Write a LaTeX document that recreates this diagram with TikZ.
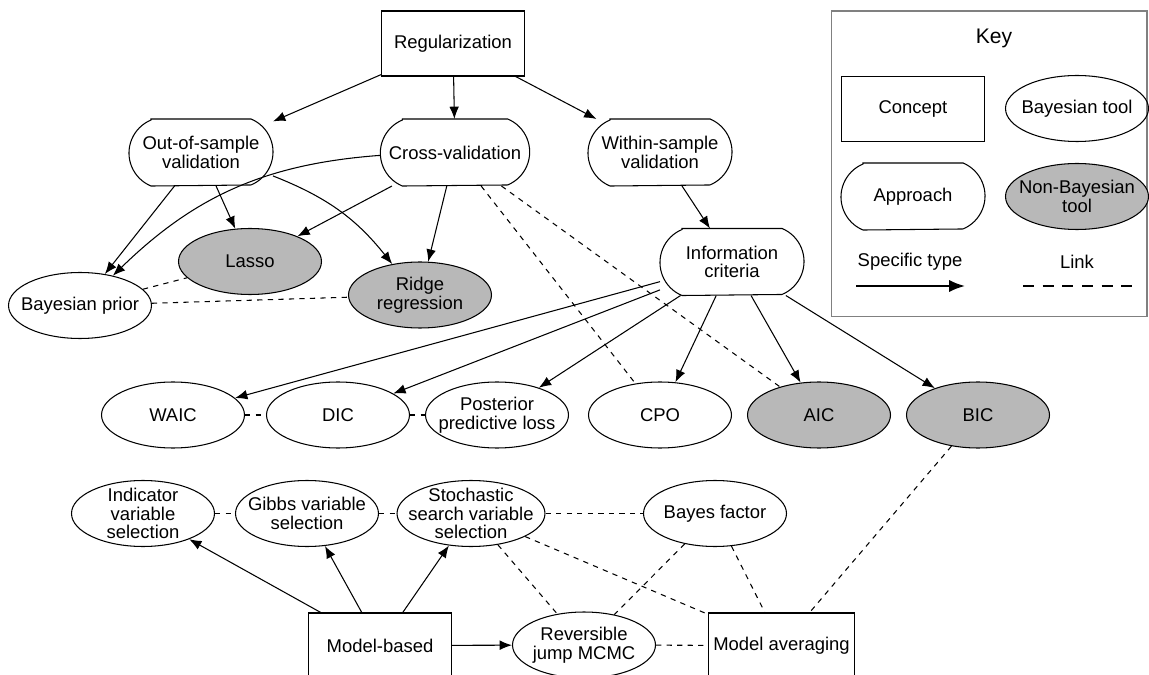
\documentclass[tikz,border=0pt]{standalone}
\usepackage{fontspec}
\setmainfont{Liberation Sans}
\usepackage{tikz}
\usetikzlibrary{arrows.meta, shapes.geometric}
\definecolor{toolgray}{gray}{0.72}
\newcommand*{\nodefont}{\fontsize{10.5}{10.7}\selectfont}

\tikzset{
  concept/.style={draw, rectangle, minimum width=2.86cm, minimum height=1.3cm, inner sep=0.1cm, font=\nodefont},
  approach/.style={rectangle, minimum width=2.86cm, minimum height=1.32cm, inner xsep=0.16cm, align=center, font=\nodefont},
  tool/.style={draw, ellipse, minimum width=2.86cm, minimum height=1.32cm, inner sep=0pt, label={[align=center, font=\nodefont]center:#1}},
  nbtool/.style={tool={#1}, fill=toolgray},
  spec/.style={-{Latex[length=7pt, width=5.5pt]}},
  link/.style={dashed},
}

\begin{document}
\begin{tikzpicture}[x=0.02cm, y=-0.02cm, line width=0.6pt]
 \useasboundingbox (0,0) rectangle (1149,675);
 % approaches and concepts
 \node[concept] (reg) at (453,43.5) {Regularization};
 \node[approach] (oos) at (201,152.5) {Out-of-sample\\validation};
 \node[approach] (cv) at (455,152.5) {Cross-validation};
 \node[approach] (wsv) at (660,152.5) {Within-sample\\validation};
 \node[approach] (ic) at (732,262) {Information\\criteria};
 % tools
 \node[nbtool=Lasso] (lasso) at (250,261.5) {};
 \node[nbtool={Ridge\\regression}] (ridge) at (420,295) {};
 \node[tool={Bayesian prior}] (bprior) at (80,305.5) {};
 \node[tool=WAIC] (waic) at (173,415) {};
 \node[tool=DIC] (dic) at (338,415) {};
 \node[tool={Posterior\\predictive loss}] (ppl) at (497,415) {};
 \node[tool=CPO] (cpo) at (660,415) {};
 \node[nbtool=AIC] (aic) at (819,415) {};
 \node[nbtool=BIC] (bic) at (978,415) {};
 \node[tool={Indicator\\variable\\selection}] (ivs) at (143,513.5) {};
 \node[tool={Gibbs variable\\selection}] (gvs) at (307,513.5) {};
 \node[tool={Stochastic\\search variable\\selection}, minimum width=2.96cm] (ssvs) at (471,513.5) {};
 \node[tool={Bayes factor}] (bf) at (715,513.5) {};
 \node[concept] (mb) at (380,645.5) {Model-based};
 \node[tool={Reversible\\jump MCMC}] (rj) at (584,645) {};
 \node[concept] (ma) at (781.5,645.5) {Model averaging};
 % key
 \node[draw=gray, minimum width=6.32cm, minimum height=6.12cm] (key) at (989,164) {};
 \node[font=\fontsize{12}{14}\selectfont] (keytitle) at (994,38) {Key};
 \node[concept] (kconcept) at (913,109) {Concept};
 \node[tool={Bayesian tool}] (kbayes) at (1077,108.5) {};
 \node[approach] (kapproach) at (913,196.5) {Approach};
 \node[nbtool={Non-Bayesian\\tool}] (knonbayes) at (1077,196.5) {};
 \node[font=\nodefont] (ktype) at (910,262) {Specific type};
 \node[font=\nodefont] (klink) at (1077,262) {Link};
 \coordinate (ktypeA) at (856,286);
 \coordinate (ktypeB) at (965,286);
 \coordinate (klinkA) at (1023,286);
 \coordinate (klinkB) at (1133,286);
 \draw[line width=1.2pt, -{Latex[length=9pt, width=7pt]}] (ktypeA) -- (ktypeB);
 \draw[line width=1.2pt, dash pattern=on 6.2pt off 5pt] (klinkA) -- (klinkB);
 % outline of the approach boxes: flat top and bottom, bowed sides
 \foreach \n in {oos,cv,wsv,ic,kapproach}
   \draw ([xshift=0.44cm]\n.north west) -- ([xshift=-0.44cm]\n.north east)
     arc[start angle=67.4, end angle=-67.4, radius=0.715cm]
     -- ([xshift=0.44cm]\n.south west)
     arc[start angle=247.4, end angle=112.6, radius=0.715cm] -- cycle;
 % specific types
 \draw[spec] (reg) -- (oos);
 \draw[spec] (reg) -- (cv);
 \draw[spec] (reg) -- (wsv);
 \draw[spec] (oos) -- (bprior);
 \draw[spec] (oos) -- (lasso);
 \draw[spec] (oos) to[bend left=15] (ridge);
 \draw[spec] (cv) to[bend right=20] (bprior);
 \draw[spec] (cv) -- (lasso);
 \draw[spec] (cv) -- (ridge);
 \draw[spec] (wsv) -- (ic);
 \foreach \t in {waic,dic,ppl,cpo,aic,bic}
   \draw[spec] (ic) -- (\t);
 \foreach \t in {ivs,gvs,ssvs,rj}
   \draw[spec] (mb) -- (\t);
 % links
 \draw[link] (cv) -- (cpo);
 \draw[link] (cv) -- (aic);
 \draw[link] (bprior) -- (lasso);
 \draw[link] (bprior) -- (ridge);
 \draw[link] (waic) -- (dic);
 \draw[link] (dic) -- (ppl);
 \draw[link] (ivs) -- (gvs);
 \draw[link] (gvs) -- (ssvs);
 \draw[link] (ssvs) -- (bf);
 \draw[link] (ssvs) -- (rj);
 \draw[link] (ssvs) -- (ma);
 \draw[link] (bf) -- (rj);
 \draw[link] (bf) -- (ma);
 \draw[link] (bic) -- (ma);
 \draw[link] (rj) -- (ma);
\end{tikzpicture}
\end{document}
